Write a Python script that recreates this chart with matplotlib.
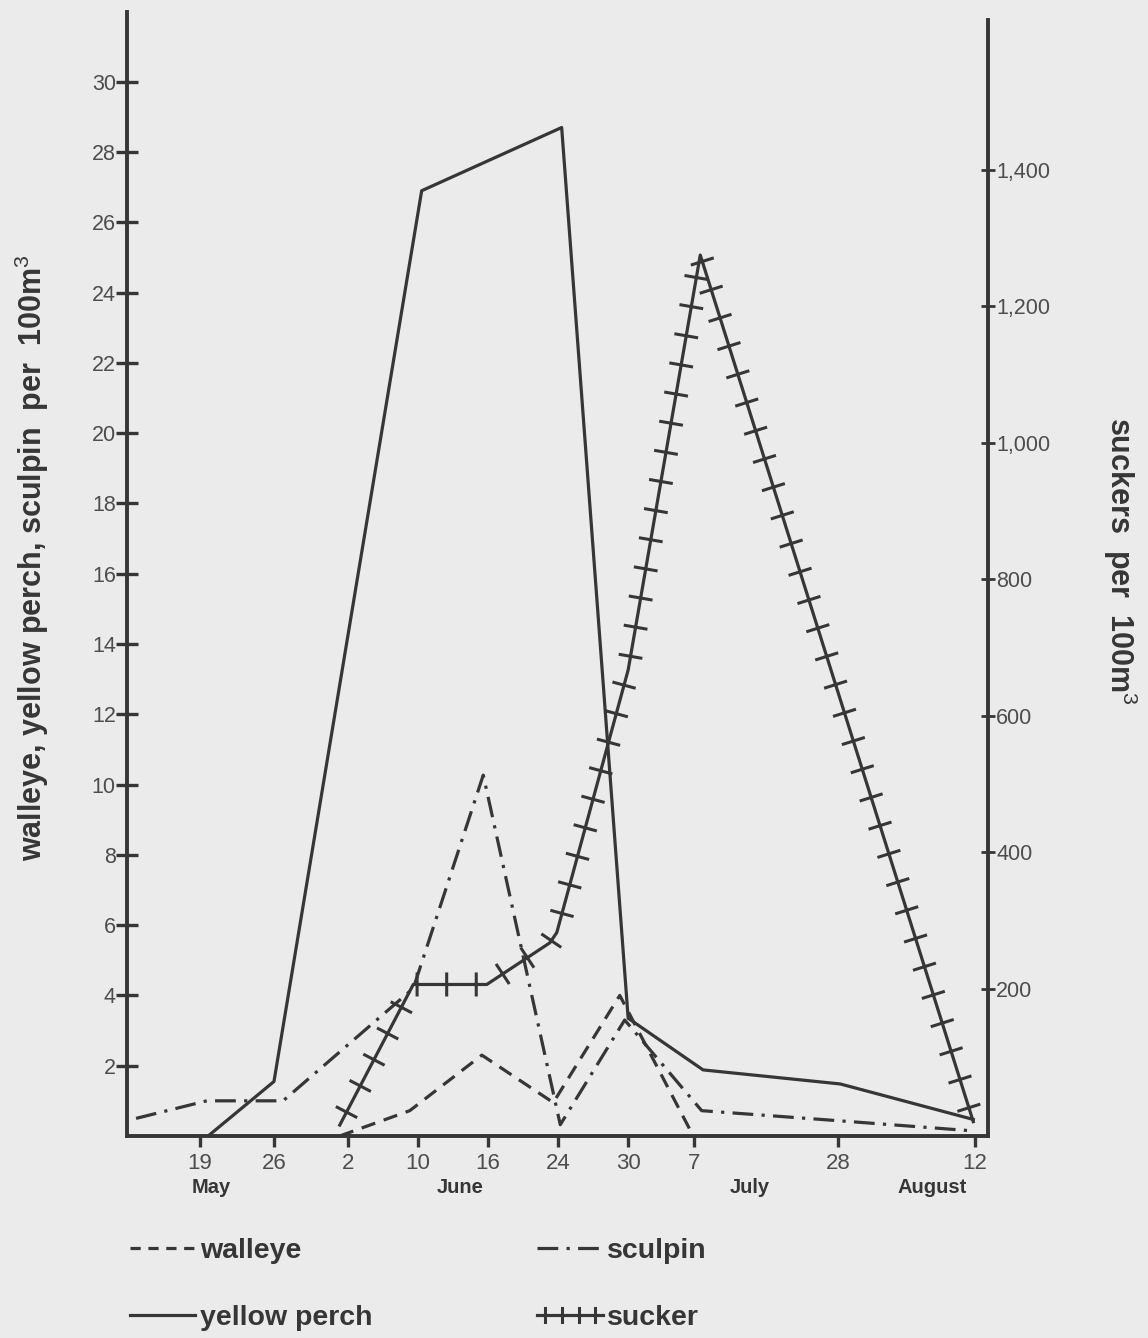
import matplotlib
matplotlib.use('Agg')
import matplotlib.pyplot as plt
from matplotlib import patheffects
from matplotlib.lines import Line2D
from matplotlib.ticker import FuncFormatter

plt.rcParams['font.family'] = ['Liberation Sans', 'DejaVu Sans']
plt.rcParams['mathtext.fontset'] = 'custom'
plt.rcParams['mathtext.rm'] = 'Liberation Sans'
plt.rcParams['mathtext.it'] = 'Liberation Sans:italic'
plt.rcParams['mathtext.bf'] = 'Liberation Sans:bold'

ink = '#363636'
paper = '#ebebeb'

# sampling dates, on the chart's own (uneven) time scale
tick_pos = [1.04, 2.10, 3.16, 4.16, 5.16, 6.16, 7.16, 8.10, 10.16, 12.11]
tick_lab = ['19', '26', '2', '10', '16', '24', '30', '7', '28', '12']
month_pos = [1.21, 4.76, 8.90, 11.50]
month_lab = ['May', 'June', 'July', 'August']

# fish per 100 m3 (left axis)
perch_x = [1.16, 2.10, 4.21, 6.21, 7.16, 8.23, 10.19, 12.09]
perch_y = [0.0, 1.55, 26.9, 28.7, 3.35, 1.88, 1.48, 0.47]

sculpin_x = [0.13, 1.14, 2.23, 4.09, 5.09, 6.19, 7.11, 8.21, 10.19, 12.11]
sculpin_y = [0.5, 1.0, 1.0, 4.2, 10.27, 0.32, 3.3, 0.72, 0.43, 0.14]

walleye_x = [3.04, 4.04, 5.07, 6.09, 7.04, 8.09]
walleye_y = [0.0, 0.72, 2.3, 0.95, 4.0, 0.0]

# suckers per 100 m3 (right axis)
sucker_x = [3.04, 4.09, 5.14, 6.04, 6.14, 7.16, 8.19, 12.09]
sucker_y = [0, 206, 206, 267, 282, 667, 1275, 5]

left_ticks = list(range(2, 31, 2))
right_ticks = [200, 400, 600, 800, 1000, 1200, 1400]

fig = plt.figure(figsize=(11.48, 13.38), dpi=100, facecolor=paper)
ax = fig.add_axes([0.1106, 0.151, 0.75, 0.843])
ax.set_facecolor(paper)
ax2 = ax.twinx()

lw = 2.3
walleye_ls = (0, (4.5, 2.8))
sculpin_ls = (0, (6.5, 2.6, 1.0, 2.6))

ax.plot(walleye_x, walleye_y, color=ink, lw=lw, ls=walleye_ls)
ax.plot(sculpin_x, sculpin_y, color=ink, lw=lw, ls=sculpin_ls)
ax.plot(perch_x, perch_y, color=ink, lw=lw)

def ticked(spacing, length):
    return [patheffects.Normal(),
            patheffects.TickedStroke(angle=90, spacing=spacing, length=length, linewidth=2.2),
            patheffects.TickedStroke(angle=-90, spacing=spacing, length=length, linewidth=2.2)]

ax2.plot(sucker_x, sucker_y, color=ink, lw=lw, path_effects=ticked(21, 0.36))

ax.set_xlim(0, 12.3)
ax.set_ylim(0, 32.1)
ax2.set_ylim(-16, 1637)

for s in ['top', 'right']:
    ax.spines[s].set_visible(False)
for s in ['top', 'left', 'bottom']:
    ax2.spines[s].set_visible(False)
for sp in [ax.spines['left'], ax.spines['bottom'], ax2.spines['right']]:
    sp.set_linewidth(2.8)
    sp.set_color(ink)
ax.spines['left'].set_bounds(0, 32.0)
ax2.spines['right'].set_bounds(-16, 1620)

ax.set_xticks(tick_pos, tick_lab)
ax.set_yticks(left_ticks)
ax2.set_yticks(right_ticks)
ax2.yaxis.set_major_formatter(FuncFormatter(lambda v, p: f'{int(v):,}'))

ax.tick_params(axis='x', direction='out', length=8, width=2.4, pad=4,
               labelsize=16, color=ink, labelcolor='#4d4d4d')
ax.tick_params(axis='y', direction='inout', length=16, width=2.4, pad=0,
               labelsize=15.5, color=ink, labelcolor='#4d4d4d')
ax2.tick_params(axis='y', direction='inout', length=10, width=2.0, pad=1,
                labelsize=15.5, color=ink, labelcolor='#4d4d4d')

for p, m in zip(month_pos, month_lab):
    ax.text(p, -0.046, m, transform=ax.get_xaxis_transform(), ha='center',
            va='center', fontsize=14.5, fontweight='bold', color=ink)

ax.set_ylabel('walleye, yellow perch, sculpin  per  100m$^3$', fontsize=22,
              fontweight='bold', color=ink, va='center')
ax.yaxis.set_label_coords(-0.110, 0.513)
ax2.set_ylabel('suckers  per  100m$^3$', fontsize=22, fontweight='bold',
               color=ink, rotation=270, va='center')
ax2.yaxis.set_label_coords(1.153, 0.51)

handles = [Line2D([], [], color=ink, lw=lw, ls=(0, (3.2, 2.4))),
           Line2D([], [], color=ink, lw=lw),
           Line2D([], [], color=ink, lw=lw, ls=sculpin_ls),
           Line2D([], [], color=ink, lw=lw, path_effects=ticked(11, 0.46))]
labels = ['walleye', 'yellow perch', 'sculpin', 'sucker']
fig.legend(handles, labels, ncol=2, loc='upper left',
           bbox_to_anchor=(130 / 1148, 1 - 1238 / 1338), frameon=False,
           prop={'weight': 'bold', 'size': 20.5}, labelcolor=ink,
           handlelength=2.3, handletextpad=0.15, columnspacing=5.8,
           labelspacing=1.45, borderaxespad=0, borderpad=0)

fig.savefig('out.png', dpi=100, facecolor=paper)
